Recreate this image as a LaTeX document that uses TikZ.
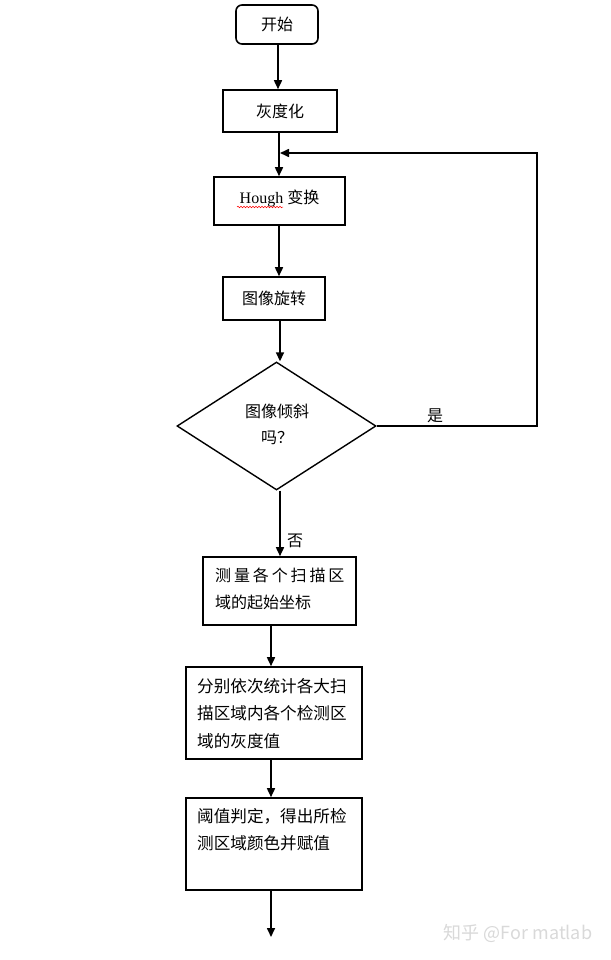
\documentclass[tikz,border=0pt]{standalone}
\usepackage{fontspec}
\setmainfont{Noto Sans CJK SC}
\newfontfamily\cjkwide[LetterSpace=18]{Noto Sans CJK SC}
\newfontfamily\latser{Liberation Serif}
\usetikzlibrary{arrows.meta,shapes.geometric,decorations.pathmorphing}
\begin{document}
\begin{tikzpicture}[x=1pt,y=-1pt,
  box/.style={draw,line width=1.6pt,inner sep=0pt,fill=white},
  arr/.style={line width=1.6pt,-{Triangle[length=9pt,width=8pt]}},
  lbl/.style={font=\fontsize{16}{20}\selectfont,inner sep=0pt},
  ltxt/.style={font=\fontsize{16}{27}\selectfont,inner sep=0pt,anchor=north west,align=left}]
\path[use as bounding box,fill=white] (0,0) rectangle (610,960);

\node[box,rounded corners=6pt,minimum width=82pt,minimum height=39pt,lbl] (start) at (277,24.5) {开始};
\node[box,minimum width=114pt,minimum height=42pt,lbl] (gray) at (280,111) {灰度化};
\node[box,minimum width=131pt,minimum height=48pt] (hough) at (279.5,201) {};
\node[lbl] (houghtxt) at (279.5,198) {\latser Hough\ \rmfamily 变换};
\node[box,minimum width=102pt,minimum height=43pt,lbl] (rot) at (274,298.5) {图像旋转};
\node[draw,diamond,line width=1.4pt,minimum width=199pt,minimum height=128pt,inner sep=0pt] (dia) at (276.5,426) {};
\node[lbl,align=center,font=\fontsize{16}{26}\selectfont] (diatxt) at (277,424) {图像倾斜\\吗？};
\node[box,minimum width=153pt,minimum height=68pt] (meas) at (279.5,591) {};
\node[ltxt] (meastxt) at (215,568) {{\cjkwide 测量各个扫描区}\\域的起始坐标};
\node[box,minimum width=176pt,minimum height=92pt] (stat) at (274,713) {};
\node[ltxt,font=\fontsize{16.6}{27.5}\selectfont] (stattxt) at (197,678) {分别依次统计各大扫\\描区域内各个检测区\\域的灰度值};
\node[box,minimum width=176pt,minimum height=92pt] (thr) at (274,844) {};
\node[ltxt,font=\fontsize{16.6}{27}\selectfont] (thrtxt) at (197,808) {阈值判定，得出所检\\测区域颜色并赋值};

\coordinate (xa) at (278,0);
\coordinate (xb) at (279,0);
\coordinate (xc) at (280,0);
\coordinate (xd) at (271,0);
\coordinate (endpt) at (271,937);
\coordinate (fb1) at (537,426);
\coordinate (fb2) at (537,153);
\coordinate (fb3) at (280,153);

\draw[arr] (start.south -| xa) -- (gray.north -| xa);
\draw[arr] (gray.south -| xb) -- (hough.north -| xb);
\draw[arr] (hough.south -| xb) -- (rot.north -| xb);
\draw[arr] (rot.south -| xc) -- (dia.north -| xc);
\draw[arr] (dia.south -| xc) -- (meas.north -| xc);
\draw[arr] (meas.south -| xd) -- (stat.north -| xd);
\draw[arr] (stat.south -| xd) -- (thr.north -| xd);
\draw[arr] (thr.south -| xd) -- (endpt);
\draw[arr] (dia.east) -- (fb1) -- (fb2) -- (fb3);

\node[lbl] (yes) at (435,416) {是};
\node[lbl] (no) at (295,541) {否};

\draw[red,line width=0.5pt,decorate,decoration={snake,amplitude=0.8pt,segment length=3pt}] (237,207) -- (283,207);

\node[inner sep=0pt,text=black!15,font=\fontsize{18}{22}\selectfont] (wm) at (518,933) {知乎 @For matlab};
\end{tikzpicture}
\end{document}
